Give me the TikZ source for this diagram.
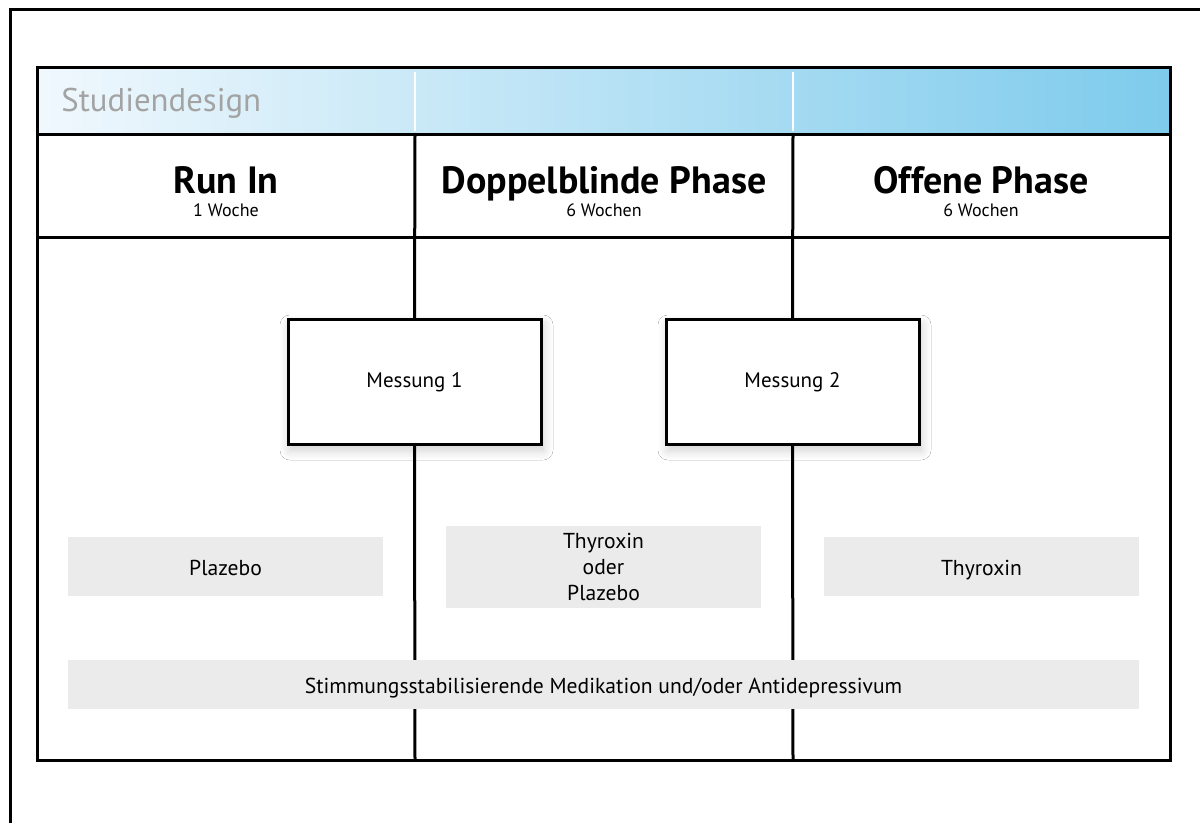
\documentclass[tikz,border=0pt]{standalone}
\usepackage{fontspec}
\setmainfont{PT Sans}
\usetikzlibrary{shadows.blur}
\definecolor{bandleft}{HTML}{F0F8FD}
\definecolor{bandright}{HTML}{7ECBEC}
\definecolor{titlegray}{HTML}{A3A3A3}
\definecolor{boxgray}{HTML}{EBEBEB}
\tikzset{
	phase/.style={font=\bfseries\fontsize{19}{21}\selectfont, anchor=base},
	weeks/.style={font=\fontsize{9}{11}\selectfont, anchor=base},
	messung/.style={draw, line width=1.5pt, fill=white, minimum width=126.5pt, minimum height=62.5pt,
		font=\fontsize{10.5}{13}\selectfont,
		blur shadow={shadow xshift=1pt, shadow yshift=-2.5pt, shadow blur radius=5pt, shadow blur steps=10, shadow opacity=20}},
	medbox/.style={fill=boxgray, minimum width=157.5pt, minimum height=29.5pt, align=center,
		font=\fontsize{10.8}{13}\selectfont, inner sep=0pt},
	oneline/.style={text height=8.5pt, text depth=0pt}
}
\begin{document}
\begin{tikzpicture}[x=0.5pt, y=-0.5pt, line join=miter, line cap=rect]
	\def\xl{37} \def\xr{1170} \def\yt{68} \def\yb{760} % Rahmen
	\def\ca{415} \def\cb{793} % Spalten
	\useasboundingbox (0,0) rectangle (1200,823);
	\fill[white] (0,0) rectangle (1200,823);
	\draw[line width=1.5pt] (10,823)--(10,10)--(1200,10);
	% Kopfzeile
	\shade[left color=bandleft, right color=bandright] (\xl,\yt) rectangle (\xr,135);
	\draw[white, line width=1pt] (\ca,73)--(\ca,130) (\cb,73)--(\cb,130);
	\node[titlegray, font=\fontsize{16.4}{19}\selectfont, anchor=base west, inner sep=0pt] (design) at (61,112) {Studiendesign};
	% Spalten
	\coordinate (d1top) at (\ca,135); \coordinate (d1bot) at (\ca,\yb);
	\coordinate (d2top) at (\cb,135); \coordinate (d2bot) at (\cb,\yb);
	\draw[line width=1.5pt] (\xl,135)--(\xr,135);
	\draw[line width=1.5pt] (\xl,238)--(\xr,238);
	\node[phase] (runin) at (226,194) {Run In};
	\node[weeks] (runinw) at (226,217) {1 Woche};
	\node[phase] (dbl) at (604,194) {Doppelblinde Phase};
	\node[weeks] (dblw) at (604,217) {6 Wochen};
	\node[phase] (off) at (981,194) {Offene Phase};
	\node[weeks] (offw) at (981,217) {6 Wochen};
	% Messungen
	\node[messung] (m1) at (414.5,382.5) {Messung 1};
	\node[messung] (m2) at (792.5,382.5) {Messung 2};
	\draw[line width=1.5pt] (d1top)--(m1.north) (m1.south)--(d1bot);
	\draw[line width=1.5pt] (d2top)--(m2.north) (m2.south)--(d2bot);
	% Medikation
	\node[medbox, oneline] (plazebo) at (225.5,566.5) {Plazebo};
	\node[medbox, minimum height=41pt] (doppel) at (603.5,567) {Thyroxin\\oder\\Plazebo};
	\node[medbox, oneline] (thyroxin) at (981.5,566.5) {Thyroxin};
	\node[medbox, oneline, minimum width=535.5pt, minimum height=24.5pt] (stimmung) at (603.5,684.5) {Stimmungsstabilisierende Medikation und/oder Antidepressivum};
	\draw[line width=1.5pt] (\xl,\yt) rectangle (\xr,\yb);
\end{tikzpicture}
\end{document}
